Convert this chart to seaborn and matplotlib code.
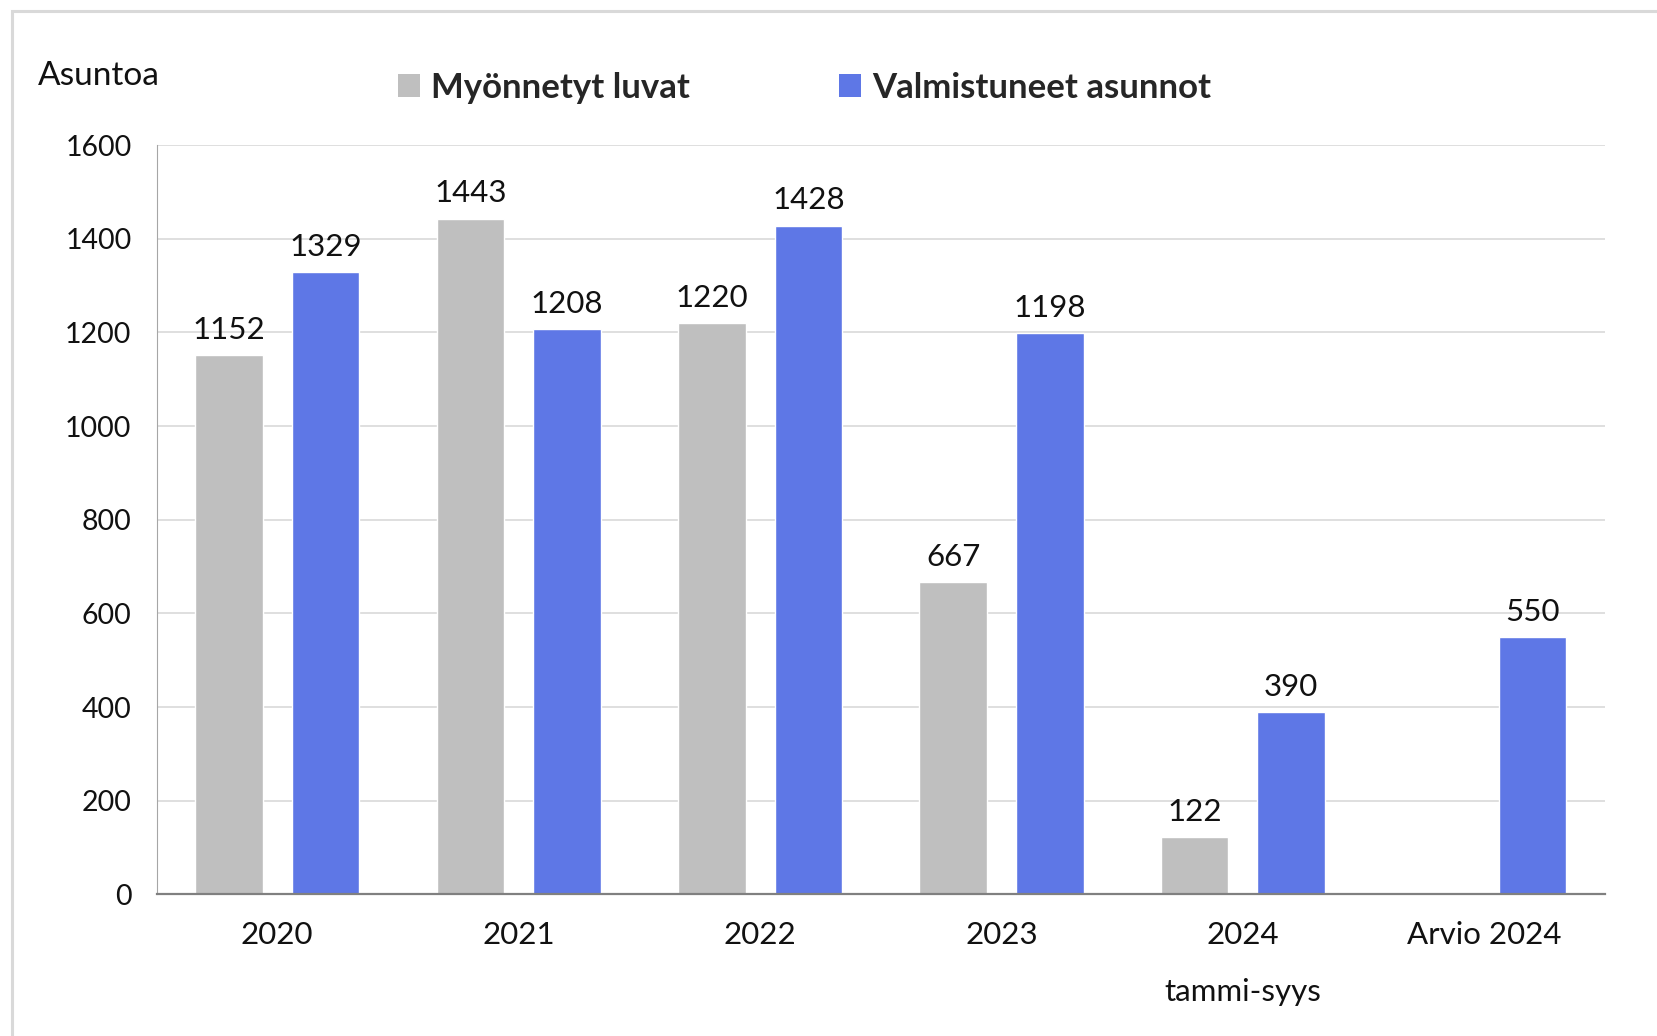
import numpy as np
import pandas as pd
import matplotlib
matplotlib.use("Agg")
import matplotlib.pyplot as plt
import seaborn as sns
from matplotlib.patches import Rectangle, Patch

# ── data ────────────────────────────────────────────────────────────────────
categories = ["2020", "2021", "2022", "2023", "2024\ntammi-syys", "Arvio 2024"]
luvat = [1152, 1443, 1220, 667, 122, np.nan]
valmiit = [1329, 1208, 1428, 1198, 390, 550]
series = ["Myönnetyt luvat", "Valmistuneet asunnot"]
colors = ["#bfbfbf", "#5e77e6"]
yticks = [0, 200, 400, 600, 800, 1000, 1200, 1400, 1600]

df = pd.DataFrame({
    "Vuosi": categories * 2,
    "Sarja": [series[0]] * len(categories) + [series[1]] * len(categories),
    "Asuntoa": luvat + valmiit,
})

sns.set_style("white")
plt.rcParams["font.family"] = ["Lato", "DejaVu Sans"]

fig = plt.figure(figsize=(16.58, 10.36), dpi=100)
ax = fig.add_axes([0.0944, 0.1366, 0.968 - 0.0944, 0.860 - 0.1366])

sns.barplot(data=df, x="Vuosi", y="Asuntoa", hue="Sarja", hue_order=series,
            palette=colors, order=categories, width=0.8, gap=0.3,
            saturation=1, legend=False, ax=ax)

# value labels above bars
for cont in ax.containers:
    labels = ["" if np.isnan(v) else f"{int(v)}" for v in cont.datavalues]
    ax.bar_label(cont, labels=labels, padding=8, fontsize=22.5, color="#111111")

ax.set_ylim(0, 1600)
ax.set_xlim(-0.5, 5.5)
ax.set_yticks(yticks)
ax.set_xlabel(""); ax.set_ylabel("")
ax.yaxis.grid(True, color="#d9d9d9", linewidth=1.2)
ax.set_axisbelow(True)
ax.tick_params(axis="y", length=0, pad=18, labelsize=20.5, labelcolor="#111111")
ax.tick_params(axis="x", length=0, pad=19, labelsize=22.5, labelcolor="#111111")
for lab in ax.get_xticklabels():
    lab.set_linespacing(2.25)
    lab.set_verticalalignment("top")

for s in ["top", "right"]:
    ax.spines[s].set_visible(False)
ax.spines["left"].set_color("#a6a6a6")
ax.spines["bottom"].set_color("#808080")
ax.spines["bottom"].set_linewidth(1.6)

fig.text(0.023, 0.927, "Asuntoa", fontsize=24, color="#111111", va="center")

handles = [Patch(facecolor=c, edgecolor="none") for c in colors]
fig.legend(handles, series, loc="center", bbox_to_anchor=(0.485, 0.915), ncol=2,
           frameon=False, handlelength=0.65, handleheight=0.65, handletextpad=0.3,
           columnspacing=4.3, prop={"weight": "bold", "size": 25})

# outer frame (cropped on right and bottom like the source)
fig.patches.append(Rectangle((12 / 1658, -0.1), 1.2, 1.1 - 11 / 1036,
                             transform=fig.transFigure, fill=False,
                             edgecolor="#d9d9d9", linewidth=2.2))

plt.savefig("out.png", dpi=100)
plt.close()
